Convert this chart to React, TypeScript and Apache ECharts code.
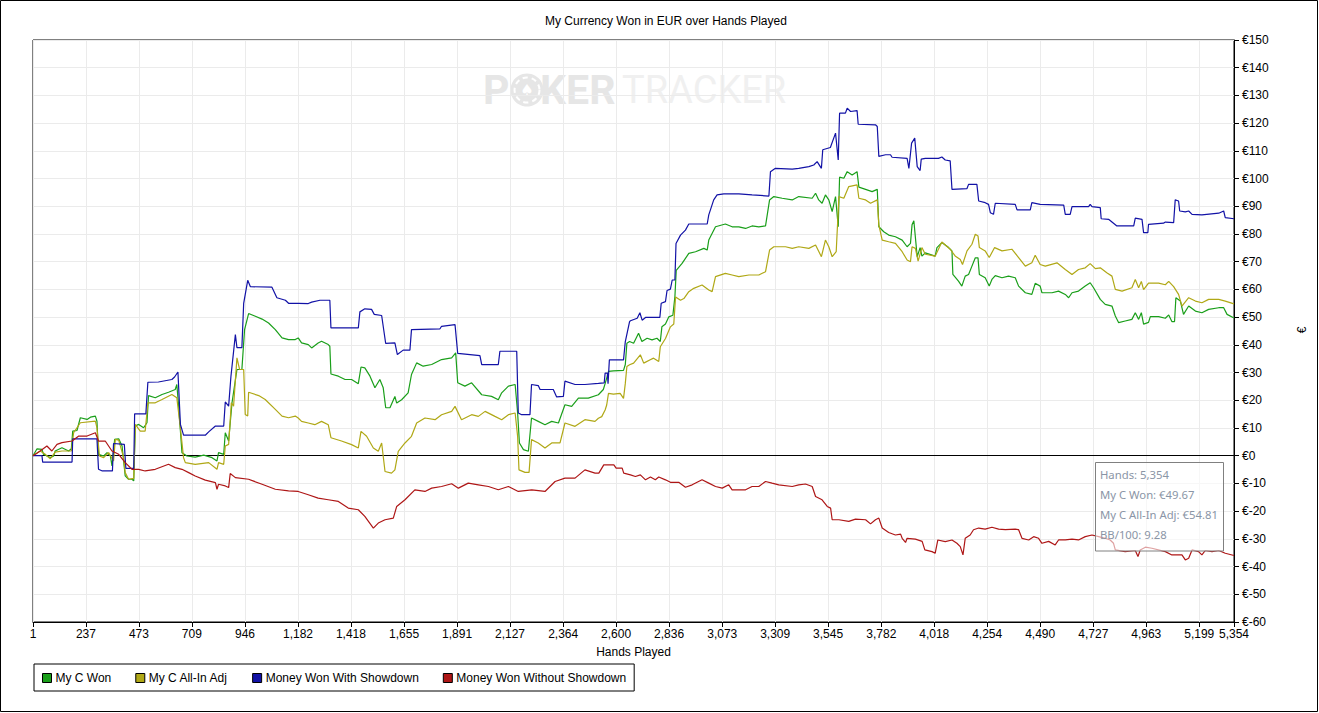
import React, { useEffect, useRef } from "react";
import * as echarts from "echarts";

const titleText = "My Currency Won in EUR over Hands Played";
const xAxisName = "Hands Played";
const yAxisName = "€";
const seriesNames = ["My C Won", "My C All-In Adj", "Money Won With Showdown", "Money Won Without Showdown"];
const seriesColors = ["#1a9f1a", "#b0a816", "#1212a6", "#ae1616"];
const xTicks = [1, 237, 473, 709, 946, 1182, 1418, 1655, 1891, 2127, 2364, 2600, 2836, 3073, 3309, 3545, 3782, 4018, 4254, 4490, 4727, 4963, 5199, 5354];
const yMin = -60;
const yMax = 150;
const yStep = 10;
const tooltipLines = ["Hands: 5,354", "My C Won: €49.67", "My C All-In Adj: €54.81", "BB/100: 9.28"];

const myCWon: [number, number][] = [[1,0],[19,2.5],[41,2.3],[48,0.5],[78,-0.7],[93,-0.1],[100,1.7],[130,2.9],[160,1.7],[172,2.5],[178,8.9],[197,9.1],[212,13.7],[242,13.1],[257,13.9],[279,14.3],[286,12.5],[293,0.5],[316,-0.1],[331,1.1],[346,-0.1],[353,-3.7],[365,5.9],[383,6.1],[398,3.5],[412,-7.3],[427,-8.5],[442,-8.5],[450,-9.1],[457,10.7],[472,11.3],[494,10.1],[509,11.9],[516,21.7],[546,20.9],[576,22.1],[605,22.9],[635,23.9],[642,25.7],[650,18],[665,1.1],[687,-0.1],[724,-0.5],[762,0.2],[799,-0.7],[821,-1.9],[828,1.1],[851,0.5],[858,8.3],[873,5.3],[888,19.1],[910,31.1],[932,31.1],[944,45.5],[962,51.3],[992,50.3],[1022,49.3],[1051,47.9],[1081,45.5],[1111,42.5],[1140,41.9],[1170,41.9],[1183,42.5],[1198,40.7],[1228,40.1],[1243,38.9],[1272,40.7],[1287,41.3],[1317,40.1],[1324,39.5],[1329,29.5],[1362,28.7],[1392,27.5],[1421,27.5],[1451,26],[1463,32],[1480,31.7],[1503,28.7],[1525,24.5],[1547,27.5],[1562,24.5],[1573,17.3],[1592,17.3],[1614,21.4],[1622,19],[1644,20.2],[1673,22.7],[1688,29.3],[1711,33.5],[1740,32.3],[1778,32.9],[1822,34.7],[1867,35.3],[1885,37.1],[1894,26.3],[1926,25.1],[1956,26.3],[2001,22],[2045,21.4],[2075,20.2],[2090,22.7],[2120,25.1],[2150,25.7],[2161,15.4],[2169,4.6],[2187,2.2],[2209,1.6],[2223,13.6],[2253,12.4],[2283,11.2],[2313,12.4],[2343,11.8],[2372,18.4],[2402,17.8],[2432,20.8],[2476,20.8],[2521,22],[2543,23.9],[2551,26],[2558,28],[2566,30.4],[2588,30.6],[2633,30.8],[2641,32.9],[2648,40.6],[2660,41.2],[2678,40.6],[2700,44.2],[2715,41.2],[2738,42.4],[2760,41.8],[2782,42.4],[2797,41.2],[2804,46.5],[2820,47.5],[2835,50.1],[2853,50.7],[2862,57.3],[2868,66.9],[2894,69.4],[2924,73],[2954,73.6],[2991,74.8],[3006,74.2],[3013,77.8],[3043,82.6],[3087,83.6],[3117,82.6],[3147,82.6],[3177,82],[3206,82.9],[3236,82.6],[3266,82.9],[3284,92.3],[3303,93.5],[3340,92.9],[3385,92.3],[3414,93.5],[3474,92.9],[3489,94.7],[3503,92.3],[3518,91.1],[3533,94.1],[3548,92.3],[3563,88.1],[3578,93.5],[3590,82.6],[3596,100.5],[3615,100.1],[3630,102.5],[3652,101.3],[3674,102.5],[3682,96.9],[3712,96.1],[3741,95.3],[3764,96.1],[3771,82.6],[3793,80.8],[3815,79.6],[3845,79],[3875,77.8],[3897,75.4],[3912,76.6],[3919,83.3],[3927,84.8],[3942,71.8],[3955,75.1],[3963,72],[3978,73.2],[4022,72],[4030,75.1],[4052,76.9],[4082,75.1],[4097,73.9],[4101,65.4],[4126,63],[4141,61.2],[4156,64.8],[4171,65.4],[4186,68.4],[4201,71.4],[4213,71.4],[4219,65.4],[4245,64.2],[4263,61.2],[4275,63.6],[4290,65],[4320,64.2],[4349,64.8],[4379,64.2],[4394,61.2],[4424,58.8],[4453,58.2],[4468,62.2],[4490,61.2],[4498,58.8],[4543,58.8],[4572,59.4],[4602,58.2],[4617,57],[4632,58.8],[4661,59.4],[4691,61.2],[4713,62.4],[4728,60.6],[4758,56.4],[4780,54.6],[4810,54],[4825,50.4],[4840,48],[4869,48.6],[4899,49.2],[4914,51.6],[4929,49.2],[4941,51.6],[4951,47.5],[4973,48.1],[4981,50.2],[5018,50.2],[5048,49.6],[5063,50.8],[5077,48.4],[5089,48.4],[5095,57],[5115,55.8],[5129,51],[5152,54],[5182,52.2],[5211,51.6],[5241,52.8],[5286,53.4],[5308,53.4],[5323,51],[5354,49.67]];

const myCAllInAdj: [number, number][] = [[1,0],[33,1.7],[56,0.5],[78,-1.1],[100,1.3],[130,1.7],[172,1.7],[182,8.3],[212,11.9],[279,12.5],[286,10.1],[297,-0.1],[316,-0.7],[338,1.1],[360,-1.9],[368,5.9],[383,5.6],[405,-0.7],[412,-6.1],[427,-8.5],[450,-8.2],[457,11.3],[479,8.9],[501,8.9],[513,19.1],[546,19.1],[576,20.3],[620,22.1],[642,20.9],[657,10.7],[672,-0.7],[680,-2.5],[724,-3.1],[784,-2.5],[821,-4.9],[828,-2.5],[851,-3.1],[858,3.5],[873,4.1],[885,19.1],[895,17.9],[910,35.3],[922,31.1],[940,31.1],[947,14.9],[958,14.3],[962,22.9],[1007,21.7],[1036,20.3],[1081,16.7],[1111,14.3],[1140,13.7],[1170,14.3],[1183,13.6],[1198,12.4],[1228,11.8],[1257,11.2],[1287,12.4],[1317,11.2],[1329,6.5],[1376,5.3],[1421,4],[1451,2.8],[1463,8.8],[1488,7],[1518,2.8],[1540,1.6],[1555,4.6],[1570,-5.7],[1599,-6.3],[1614,-5.1],[1629,1.6],[1659,4.6],[1688,7],[1711,11.8],[1748,13.6],[1793,13],[1822,14.8],[1867,16],[1882,17.8],[1911,13],[1956,14.8],[1986,14.2],[2016,16],[2060,14.2],[2090,13],[2120,14.8],[2150,15.4],[2161,7],[2167,-5.1],[2194,-6],[2212,-6],[2223,5.8],[2253,4.6],[2283,2.8],[2313,4.6],[2350,4.6],[2372,11.8],[2417,10.6],[2461,13],[2506,12.4],[2521,13.5],[2536,14.1],[2551,16.5],[2558,18.3],[2566,22.5],[2588,22.2],[2618,22.5],[2633,20.7],[2641,26.1],[2648,32.2],[2660,32.8],[2678,33.4],[2708,36.4],[2723,33.4],[2752,34.6],[2767,35.2],[2790,34],[2797,39.3],[2820,42.3],[2842,46.5],[2857,47.5],[2865,57.3],[2887,56.1],[2902,56.7],[2924,59.2],[2946,60.4],[2983,61.6],[3013,59.8],[3028,59.2],[3043,64.6],[3087,65.8],[3117,65.2],[3147,64.6],[3192,65.2],[3236,65.2],[3266,66.4],[3284,74.2],[3303,75.4],[3355,75.4],[3385,74.8],[3414,75.4],[3459,74.8],[3489,76],[3515,71.8],[3533,77.8],[3548,75.4],[3563,71.8],[3581,73.6],[3593,93.5],[3615,92.9],[3637,97.1],[3674,97.7],[3682,92.9],[3712,92.3],[3734,91.1],[3764,92.3],[3771,83.3],[3786,77.8],[3815,77.2],[3845,76.6],[3875,73.6],[3897,70.6],[3912,70],[3919,75.4],[3934,74.8],[3946,70.2],[3963,75.1],[3978,72.7],[4022,72],[4052,77.1],[4089,74.5],[4111,72.1],[4134,70.8],[4144,69],[4164,73.9],[4186,76.3],[4201,79.9],[4213,79.3],[4219,75.1],[4245,73.9],[4263,71.5],[4287,75.1],[4320,73.9],[4364,74.5],[4394,71.5],[4424,68.4],[4453,69.6],[4468,72.3],[4490,69],[4513,68.4],[4565,69.6],[4602,67.2],[4632,65.4],[4661,67.2],[4691,67.8],[4713,69.3],[4736,67.5],[4758,67.8],[4787,66],[4810,64.8],[4825,60],[4855,59.4],[4899,60.6],[4914,63.6],[4929,60.6],[4941,62.9],[4951,59.9],[4973,62.3],[5018,62.3],[5048,61.7],[5063,62.9],[5085,61],[5107,58.2],[5122,54],[5152,57],[5182,55.8],[5211,55.2],[5241,56.4],[5286,56.4],[5315,55.8],[5354,54.81]];

const wonWithShowdown: [number, number][] = [[1,0],[41,0],[44,-2.3],[175,-2.3],[178,6.1],[286,6.1],[293,-4.9],[310,-5.5],[355,-5.5],[360,4.4],[408,4.1],[415,-4.6],[450,-4.6],[454,15.1],[504,15.1],[513,26.5],[560,26.6],[620,27.5],[632,28.4],[647,30.2],[658,11.3],[672,7.4],[769,7.4],[784,8.6],[814,10.7],[851,10.7],[858,19.4],[873,17.9],[883,28.4],[903,43.7],[910,39],[932,39],[940,55],[958,63.3],[970,61],[1066,60.8],[1088,57],[1126,56.1],[1140,55],[1185,55],[1228,54.9],[1243,55.4],[1280,56.1],[1324,56.1],[1329,46.1],[1451,46.1],[1458,51.9],[1480,53],[1510,52.8],[1522,51],[1555,50.6],[1573,40.5],[1614,40.7],[1625,36.5],[1651,38.1],[1681,38.1],[1688,45.5],[1815,45.8],[1822,46.7],[1882,47.3],[1894,36.9],[1993,36.1],[2001,32.9],[2075,32.9],[2082,37.7],[2157,37.7],[2164,15.4],[2179,14.8],[2216,14.8],[2223,25.7],[2253,25.3],[2261,23.9],[2320,23.9],[2335,21.2],[2365,21.4],[2372,26.9],[2417,25.7],[2461,25.7],[2521,26.1],[2547,26.3],[2551,29.8],[2561,29.8],[2564,26],[2570,34.6],[2588,34.6],[2633,34.6],[2641,41.2],[2660,48.4],[2664,48.7],[2694,49.6],[2706,51.6],[2716,48.9],[2731,49.9],[2795,49.9],[2801,55],[2820,55.6],[2827,59.6],[2842,60.1],[2850,63.4],[2862,63.4],[2867,76.6],[2887,79.6],[2909,81.4],[2924,83.6],[3006,83.6],[3013,86.9],[3035,92.3],[3050,94.1],[3080,94.5],[3147,94.5],[3206,94.1],[3281,93.7],[3288,102.5],[3310,103.7],[3385,103.4],[3414,103.7],[3459,104.3],[3481,104.9],[3496,106.1],[3515,103.7],[3521,110.4],[3555,111.2],[3578,116.4],[3590,106.7],[3596,123.6],[3622,123.6],[3630,125.4],[3645,124.2],[3674,124.5],[3679,119.6],[3756,119.4],[3764,118.8],[3771,108],[3801,108.6],[3823,108.6],[3830,107.7],[3897,107.3],[3905,103.7],[3917,112.8],[3931,114.6],[3942,104.3],[3955,102.9],[3960,107],[3978,107.3],[4037,107.3],[4052,107.8],[4067,106.7],[4089,106.4],[4097,96.1],[4164,96.4],[4171,97.9],[4208,97.9],[4216,91.9],[4245,91.3],[4260,90.7],[4268,87.7],[4282,87.1],[4290,91.1],[4379,90.7],[4387,88.7],[4446,88.7],[4453,91.3],[4490,90.7],[4595,90.4],[4602,87.1],[4624,87.1],[4632,89.9],[4706,89.9],[4713,90.7],[4721,89.9],[4758,89.5],[4762,85.5],[4795,85.3],[4832,82.9],[4907,82.9],[4914,85.7],[4944,85.3],[4951,80.5],[4970,80.5],[4973,83.5],[5040,83.9],[5048,84.3],[5085,84.1],[5092,92.3],[5107,91.9],[5112,88.3],[5137,88],[5152,88.3],[5167,87.1],[5211,86.9],[5286,87.5],[5308,88.3],[5315,85.9],[5354,85.5]];

const wonWithoutShowdown: [number, number][] = [[1,0],[33,1.7],[63,3.5],[85,1.7],[108,4.1],[130,4.7],[175,5.3],[205,7.1],[242,7.1],[279,8.3],[293,5.3],[323,5.3],[353,1.7],[383,0.5],[412,-2.5],[442,-4.9],[472,-4.9],[501,-5.5],[546,-4.9],[605,-3.1],[635,-4.3],[665,-4.9],[695,-6.1],[724,-7.3],[769,-8.8],[814,-9.7],[821,-12.1],[828,-10.3],[858,-10.9],[873,-11.5],[880,-6.4],[903,-7.9],[962,-8.5],[1022,-10.3],[1081,-12.1],[1140,-12.7],[1183,-12.9],[1228,-14.1],[1272,-15.3],[1317,-15.9],[1362,-16.5],[1406,-18.9],[1451,-19.5],[1480,-21.9],[1518,-26.1],[1540,-24.3],[1570,-23.1],[1607,-22.5],[1622,-18.3],[1659,-15.9],[1703,-12.3],[1748,-12.9],[1778,-11.7],[1822,-11.1],[1867,-10.1],[1897,-11.7],[1941,-9.9],[1986,-10.5],[2031,-11.1],[2075,-12.3],[2120,-11.1],[2164,-12.9],[2224,-12.3],[2283,-12.9],[2328,-9.3],[2372,-8.1],[2417,-8.1],[2461,-5.1],[2506,-6.3],[2523,-6.3],[2545,-3.3],[2590,-3.3],[2600,-4.5],[2627,-4.5],[2634,-6.3],[2664,-6.9],[2686,-7.5],[2708,-6.9],[2731,-8.7],[2753,-7.7],[2775,-8.7],[2790,-7.7],[2820,-8.7],[2842,-9.6],[2879,-9.6],[2909,-11.4],[2939,-10.5],[2983,-8.7],[3013,-9.9],[3043,-11.1],[3073,-11.7],[3102,-10.5],[3117,-12.3],[3177,-12.3],[3206,-11.1],[3236,-11.1],[3266,-9.3],[3295,-9.9],[3325,-10.5],[3385,-11.1],[3414,-10.5],[3444,-10.2],[3474,-11.1],[3489,-14.7],[3518,-15.9],[3541,-18.3],[3556,-18.9],[3563,-23.1],[3593,-23.1],[3637,-23.7],[3667,-22.9],[3712,-23.1],[3734,-24.6],[3756,-23.1],[3771,-22.5],[3786,-26.1],[3815,-27.7],[3845,-28.6],[3868,-28.3],[3875,-29.8],[3890,-31.3],[3897,-29.8],[3934,-30.1],[3964,-30.9],[3976,-34],[4008,-34.6],[4022,-35.2],[4034,-30.4],[4067,-31],[4097,-30.4],[4119,-31.6],[4134,-32.8],[4146,-35.8],[4156,-29.8],[4178,-28.6],[4193,-26.7],[4216,-26.1],[4245,-26.5],[4275,-25.8],[4305,-26.5],[4335,-26.7],[4379,-26.5],[4394,-26.7],[4409,-29.8],[4439,-30.4],[4461,-29.2],[4483,-29.8],[4498,-31.6],[4528,-30.9],[4557,-32.2],[4572,-30.4],[4602,-30.4],[4632,-30.1],[4661,-30.4],[4691,-29.2],[4721,-28.6],[4751,-29.2],[4780,-29.8],[4802,-30.4],[4817,-31.6],[4825,-34],[4869,-34.6],[4914,-34.2],[4926,-36.4],[4936,-34],[4959,-33],[4988,-33.4],[5048,-34.6],[5077,-35.8],[5122,-35.8],[5137,-37.6],[5152,-37],[5167,-34],[5196,-34.6],[5211,-35.8],[5226,-34.2],[5256,-34.6],[5286,-34.2],[5315,-35.2],[5354,-36]];

const seriesData = [myCWon, myCAllInAdj, wonWithShowdown, wonWithoutShowdown];

const FONT = "'Liberation Sans', Arial, sans-serif";

export default function App() {
  const ref = useRef<HTMLDivElement>(null);
  useEffect(() => {
    if (!ref.current) return;
    const chart = echarts.init(ref.current, null, { renderer: "svg" });
    const series: any[] = seriesNames.map((name, i) => ({
      name,
      type: "line",
      data: seriesData[i],
      showSymbol: false,
      symbol: "none",
      lineStyle: { width: 1.2, color: seriesColors[i] },
      itemStyle: { color: seriesColors[i] },
      z: 3,
      silent: true,
      ...(i === 0
        ? {
            markLine: {
              silent: true,
              symbol: "none",
              label: { show: false },
              lineStyle: { color: "#000", width: 1, type: "solid" },
              data: [{ yAxis: 0 }],
              z: 2,
            },
          }
        : {}),
    }));
    const graphic: any[] = [
      {
        type: "rect",
        shape: { x: 0.5, y: 0.5, width: 1317, height: 711 },
        style: { fill: "none", stroke: "#000", lineWidth: 1 },
        silent: true,
        z: 0,
      },
      {
        type: "group",
        z: 1,
        silent: true,
        children: [
          { type: "text", x: 483, y: 90, style: { text: "P", font: "bold 41px Roboto", fill: "#e6e6e6", verticalAlign: "middle", align: "left" } },
          { type: "circle", shape: { cx: 527, cy: 90, r: 16.5 }, style: { fill: "#e6e6e6" } },
          { type: "circle", shape: { cx: 527, cy: 90, r: 12.5 }, style: { fill: "none", stroke: "#ffffff", lineWidth: 2, lineDash: [5, 4] } },
          { type: "text", x: 527, y: 90, style: { text: "♠", font: "15px 'DejaVu Sans'", fill: "#ffffff", verticalAlign: "middle", align: "center" } },
          { type: "text", x: 540, y: 90, style: { text: "KER", font: "bold 41px Roboto", fill: "#e6e6e6", verticalAlign: "middle", align: "left" } },
          { type: "text", x: 622, y: 90, style: { text: "TRACKER", font: "38px Roboto", fill: "#f0f0f0", verticalAlign: "middle", align: "left" } },
        ],
      },
      {
        type: "text",
        x: 1302,
        y: 330,
        rotation: Math.PI / 2,
        style: { text: yAxisName, font: `12px ${FONT}`, fill: "#000", align: "center", verticalAlign: "middle" },
        silent: true,
      },
      {
        type: "rect",
        shape: { x: 1095.5, y: 462.5, width: 128, height: 88.5 },
        style: { fill: "rgba(255,255,255,0.6)", stroke: "#808080", lineWidth: 1 },
        silent: true,
        z: 100,
      },
      ...tooltipLines.map((t, i) => ({
        type: "text",
        x: 1100,
        y: 474.5 + i * 20,
        z: 101,
        silent: true,
        style: { text: t, font: "11.3px 'Noto Sans', 'Open Sans', sans-serif", fill: "#8a95a6", verticalAlign: "middle", align: "left" },
      })),
    ];
    chart.setOption({
      animation: false,
      backgroundColor: "#ffffff",
      title: {
        text: titleText,
        left: 545,
        top: 15,
        padding: 0,
        textStyle: { fontSize: 12, fontWeight: "normal", color: "#000", fontFamily: FONT },
      },
      legend: {
        data: seriesNames,
        left: 34,
        top: 664,
        orient: "horizontal",
        padding: [8, 8, 7, 8],
        borderColor: "#000",
        borderWidth: 1,
        itemWidth: 9,
        itemHeight: 9,
        itemGap: 24,
        icon: "rect",
        itemStyle: { borderColor: "#000", borderWidth: 1 },
        textStyle: { fontSize: 12, color: "#000", fontFamily: FONT, padding: [0, 0, 0, -1] },
        selectedMode: false,
      },
      grid: {
        left: 33,
        top: 40,
        right: 85,
        bottom: 91,
        show: true,
        borderColor: "#000",
        borderWidth: 1,
        backgroundColor: "#ffffff",
        containLabel: false,
      },
      xAxis: {
        type: "value",
        min: xTicks[0],
        max: xTicks[xTicks.length - 1],
        name: xAxisName,
        nameLocation: "middle",
        nameGap: 24,
        nameTextStyle: { fontSize: 12, color: "#000", fontFamily: FONT },
        axisLine: { show: true, onZero: false, lineStyle: { color: "#000", width: 1 } },
        axisTick: { show: true, length: 5, lineStyle: { color: "#000" }, customValues: xTicks },
        axisLabel: {
          customValues: xTicks,
          margin: 6,
          fontSize: 12,
          color: "#000",
          fontFamily: FONT,
          formatter: (v: number) => Math.round(v).toLocaleString("en-US"),
        },
        splitLine: { show: true, lineStyle: { color: "#ebebeb", width: 1 } },
      },
      yAxis: {
        type: "value",
        position: "right",
        min: yMin,
        max: yMax,
        interval: yStep,
        axisLine: { show: true, lineStyle: { color: "#000", width: 1 } },
        axisTick: { show: true, length: 5, lineStyle: { color: "#000" } },
        axisLabel: {
          margin: 8,
          fontSize: 12,
          color: "#000",
          fontFamily: FONT,
          formatter: (v: number) => `€${v}`,
        },
        splitLine: { show: true, lineStyle: { color: "#ebebeb", width: 1 } },
      },
      series,
      graphic,
    });
    return () => chart.dispose();
  }, []);
  return (
    <div
      ref={ref}
      style={{ position: "fixed", left: 0, top: 0, width: 1319, height: 713, background: "#fff" }}
    />
  );
}
